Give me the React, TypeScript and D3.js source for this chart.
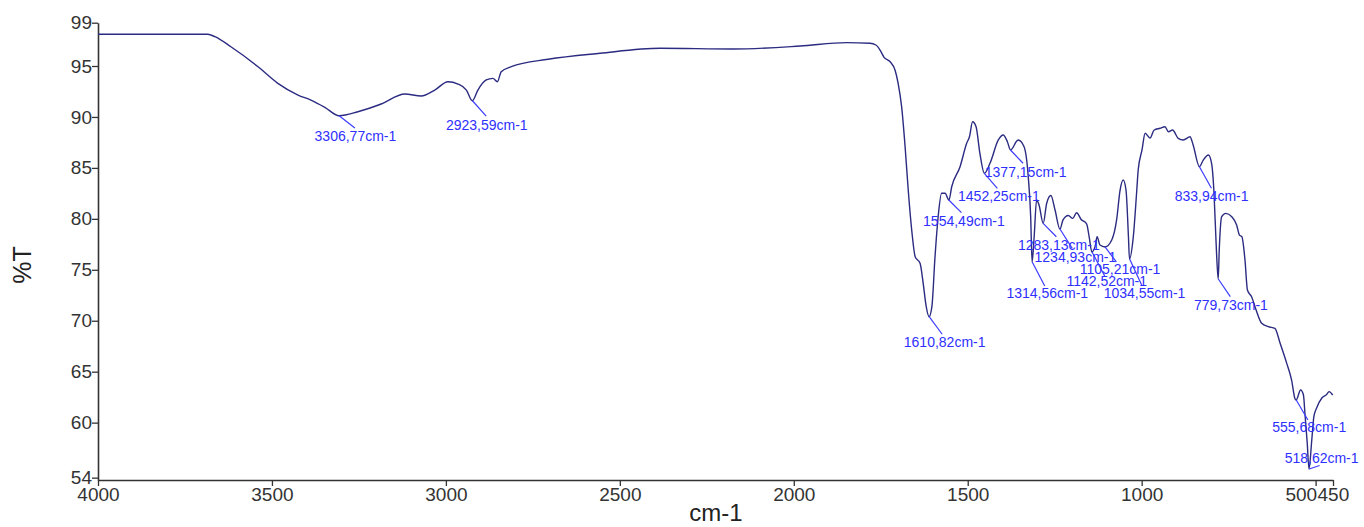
import React, { useEffect, useRef } from "react";
import * as d3 from "d3";

// IR spectrum (cm-1 / %T)
const wavenumber = [
  4000, 3684, 3664, 3618, 3540, 3483, 3425, 3388, 3348, 3307, 3253, 3186, 3118, 3071,
  3032, 2994, 2965, 2941, 2924, 2908, 2884, 2865, 2852, 2841, 2812, 2706, 2557, 2384,
  2175, 1982, 1848, 1781, 1764, 1752, 1741, 1723, 1709, 1700, 1690, 1680, 1671, 1661,
  1651, 1637, 1628, 1620, 1611, 1603, 1594, 1585, 1575, 1565, 1554, 1546, 1522, 1503,
  1495, 1486, 1476, 1465, 1452, 1436, 1412, 1398, 1386, 1377, 1355, 1338, 1326, 1319,
  1315, 1309, 1302, 1295, 1283, 1273, 1261, 1249, 1235, 1226, 1211, 1198, 1187, 1174,
  1158, 1151, 1143, 1134, 1128, 1120, 1105, 1086, 1072, 1062, 1053, 1045, 1038, 1035,
  1024, 1014, 1010, 999, 990, 976, 964, 947, 933, 923, 911, 895, 880, 861, 852, 834,
  823, 808, 799, 792, 786, 780, 777, 770, 758, 741, 727, 719, 712, 703, 696, 684, 671,
  655, 636, 617, 602, 583, 569, 559, 556, 543, 535, 530, 524, 519, 511, 505, 497, 482,
  470, 461, 451,
];
const transmittance = [
  98.11, 98.11, 97.88, 96.89, 94.93, 93.3, 92.15, 91.66, 90.95, 90.12, 90.51, 91.27, 92.25,
  92.06, 92.64, 93.46, 93.23, 92.64, 91.59, 92.64, 93.63, 93.79, 93.46, 94.44, 94.93, 95.66,
  96.25, 96.74, 96.67, 96.96, 97.29, 97.23, 97.06, 96.57, 95.88, 95.42, 94.61, 93.3, 91.01,
  87.08, 82.83, 78.9, 76.28, 75.64, 73.67, 71.54, 70.4, 71.38, 76.28, 80.21, 82.51, 82.51,
  81.85, 83.15, 85.12, 87.41, 88.06, 89.53, 89.04, 86.43, 84.47, 85.45, 87.74, 88.23, 87.57,
  86.76, 87.74, 87.08, 84.14, 80.21, 75.76, 78.25, 81.85, 81.36, 79.56, 81.53, 82.29, 80.87,
  79.0, 79.89, 80.33, 80.05, 80.6, 79.94, 79.49, 78.25, 76.75, 77.27, 78.25, 77.43, 77.24,
  77.92, 79.89, 82.83, 83.81, 82.83, 78.25, 76.06, 78.25, 82.83, 84.79, 86.76, 88.4, 87.93,
  88.72, 88.89, 89.04, 88.55, 88.72, 87.9, 87.74, 88.06, 87.25, 85.12, 85.77, 86.27, 85.45,
  82.51, 77.6, 74.1, 76.94, 80.21, 80.54, 80.21, 79.4, 78.41, 78.25, 75.96, 73.02, 72.36,
  71.05, 69.75, 69.42, 69.26, 67.79, 65.82, 64.18, 62.32, 62.22, 63.2, 62.71, 60.58, 57.97,
  55.45, 58.3, 60.58, 61.44, 62.42, 62.71, 63.04, 62.71,
];

// labelled peaks
const peakWavenumber = [
  3306.77, 2923.59, 1610.82, 1554.49, 1452.25, 1377.15, 1314.56, 1283.13, 1234.93, 1142.52,
  1105.21, 1034.55, 833.94, 779.73, 555.68, 518.62,
];
const peakTransmittance = [
  90.12, 91.59, 70.4, 81.85, 84.47, 86.76, 75.76, 79.56, 79.0, 76.75, 77.24, 76.06, 85.12,
  74.1, 62.22, 55.45,
];

const xTicks = [4000, 3500, 3000, 2500, 2000, 1500, 1000, 500, 450];
const yTicks = [99.25, 95, 90, 85, 80, 75, 70, 65, 60, 54.6];
const yTickLabels = ["99", "95", "90", "85", "80", "75", "70", "65", "60", "54"];

// leader end (dx, dy) and label position (tx, ty), px from the peak point
const labelOffsets = [
  [15.7, 12.3, -24.6, 25.3],
  [13.7, 15.3, -26.6, 28.8],
  [13, 17.6, -25.4, 30],
  [12.7, 12.7, -25.7, 26],
  [13, 15, -26.3, 27.7],
  [12.6, 13.3, -25.7, 27.3],
  [12.5, 24, -25.8, 36.3],
  [13.2, 13.4, -25.2, 26.7],
  [12.3, 19.3, -25.4, 33.3],
  [12.6, 24, -25.7, 34.5],
  [11.3, 15, -25.4, 27],
  [12, 26, -26, 39],
  [12, 21.6, -24.8, 34],
  [12, 17.7, -24.4, 31],
  [11.7, 20, -24, 31.7],
  [10.5, -3.5, -24.5, -6.3],
];

const App = () => {
  const svgRef = useRef<SVGSVGElement>(null);

  useEffect(() => {
    const width = 1364;
    const height = 527;
    const font = "'Liberation Sans', Arial, sans-serif";

    const x = d3.scaleLinear().domain([4000, 450]).range([98, 1333]);
    const y = d3.scaleLinear().domain([54.37, 99.25]).range([480, 22.7]);

    const svg = d3
      .select(svgRef.current)
      .attr("width", width)
      .attr("height", height)
      .attr("viewBox", `0 0 ${width} ${height}`);

    svg.selectAll("*").remove();

    svg.append("rect").attr("width", width).attr("height", height).attr("fill", "#fff");

    // x axis
    const xAxis = svg
      .append("g")
      .attr("transform", `translate(0,${y(54.37)})`)
      .call(d3.axisBottom(x).tickValues(xTicks).tickSize(6).tickSizeOuter(0).tickFormat(d3.format("d")));
    xAxis.select(".domain").attr("stroke", "#333").attr("stroke-width", 1.6);
    xAxis.selectAll(".tick line").attr("stroke", "#333").attr("stroke-width", 1.3);
    xAxis
      .selectAll(".tick text")
      .attr("font-family", font)
      .attr("font-size", 19)
      .attr("fill", "#333")
      .attr("dy", "0.85em")
      .attr("y", 5);
    // keep "500" and "450" from overlapping
    xAxis
      .selectAll<SVGTextElement, number>(".tick text")
      .filter((d) => d === 500)
      .attr("text-anchor", "end")
      .attr("x", 1);
    xAxis
      .selectAll<SVGTextElement, number>(".tick text")
      .filter((d) => d === 450)
      .attr("text-anchor", "start")
      .attr("x", -16);

    // y axis
    const yAxis = svg
      .append("g")
      .attr("transform", `translate(${x(4000)},0)`)
      .call(
        d3
          .axisLeft(y)
          .tickValues(yTicks)
          .tickSize(6)
          .tickSizeOuter(0)
          .tickFormat((_, i) => yTickLabels[i])
      );
    yAxis.select(".domain").attr("stroke", "#333").attr("stroke-width", 1.6);
    yAxis.selectAll(".tick line").attr("stroke", "#333").attr("stroke-width", 1.3);
    yAxis
      .selectAll(".tick text")
      .attr("font-family", font)
      .attr("font-size", 19)
      .attr("fill", "#333")
      .attr("x", -6);

    // axis titles
    svg
      .append("text")
      .attr("transform", `translate(31,265) rotate(-90)`)
      .attr("text-anchor", "middle")
      .attr("font-family", font)
      .attr("font-size", 25)
      .attr("fill", "#222")
      .text("%T");
    svg
      .append("text")
      .attr("x", 716)
      .attr("y", 521)
      .attr("text-anchor", "middle")
      .attr("font-family", font)
      .attr("font-size", 24)
      .attr("fill", "#222")
      .text("cm-1");

    // spectrum
    const line = d3
      .line<number>()
      .x((d) => x(d))
      .y((_, i) => y(transmittance[i]))
      .curve(d3.curveMonotoneX);

    svg
      .append("path")
      .attr("d", line(wavenumber))
      .attr("fill", "none")
      .attr("stroke", "#2b2b82")
      .attr("stroke-width", 1.4)
      .attr("stroke-linejoin", "round");

    // peak annotations
    const peaks = svg
      .append("g")
      .selectAll("g")
      .data(peakWavenumber)
      .join("g")
      .attr("transform", (d, i) => `translate(${x(d)},${y(peakTransmittance[i])})`);

    peaks
      .append("line")
      .attr("x1", 0)
      .attr("y1", 0)
      .attr("x2", (_, i) => labelOffsets[i][0])
      .attr("y2", (_, i) => labelOffsets[i][1])
      .attr("stroke", "#3c3cff")
      .attr("stroke-width", 1.2);

    peaks
      .append("text")
      .attr("x", (_, i) => labelOffsets[i][2])
      .attr("y", (_, i) => labelOffsets[i][3])
      .attr("font-family", font)
      .attr("font-size", 14)
      .attr("fill", "#2f2fff")
      .text((d) => `${d.toFixed(2).replace(".", ",")}cm-1`);
  }, []);

  return (
    <div style={{ position: "absolute", left: 0, top: 0 }}>
      <svg ref={svgRef}></svg>
    </div>
  );
};

export default App;
